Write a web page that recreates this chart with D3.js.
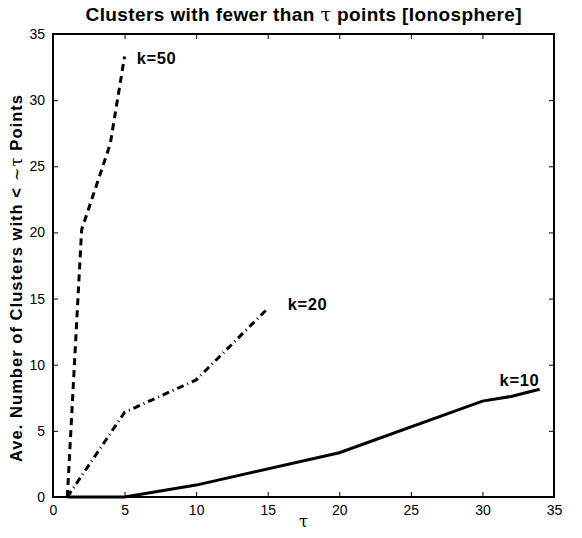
<!DOCTYPE html>
<html><head><meta charset="utf-8">
<script src="https://cdn.jsdelivr.net/npm/d3@7"></script>
<style>body{margin:0;background:#fff}</style>
</head><body>
<svg id="c" width="582" height="538"></svg>
<script>
const xTicks = [0,5,10,15,20,25,30,35];
const yTicks = [0,5,10,15,20,25,30,35];
const k10x = [1,5,10,20,30,32,34];
const k10y = [0,0,0.9,3.35,7.25,7.6,8.15];
const k20x = [1,5,10,15];
const k20y = [0,6.4,8.85,14.25];
const k50x = [1,2,4,5];
const k50y = [0,20.2,26.7,33.3];
const labelText = ["k=50","k=20","k=10"];
const labelX = [5.85,16.4,31.2];
const labelY = [33.2,14.6,8.85];

const svg = d3.select("#c");
const L=53, R=554, T=34, B=497;
const x = d3.scaleLinear().domain([0,35]).range([L,R]);
const y = d3.scaleLinear().domain([0,35]).range([B,T]);
const font = "'Liberation Sans', Arial, Helvetica, sans-serif";

// axes
const ax = svg.append("g").attr("transform",`translate(0,${B})`)
  .call(d3.axisBottom(x).tickValues(xTicks).tickSizeInner(-5).tickSizeOuter(0).tickPadding(8));
const axT = svg.append("g").attr("transform",`translate(0,${T})`)
  .call(d3.axisTop(x).tickValues(xTicks).tickSizeInner(-5).tickSizeOuter(0).tickFormat(""));
const ay = svg.append("g").attr("transform",`translate(${L},0)`)
  .call(d3.axisLeft(y).tickValues(yTicks).tickSizeInner(-5).tickSizeOuter(0).tickPadding(8));
const ayR = svg.append("g").attr("transform",`translate(${R},0)`)
  .call(d3.axisRight(y).tickValues(yTicks).tickSizeInner(-5).tickSizeOuter(0).tickFormat(""));
[ax,axT,ay,ayR].forEach(g=>{
  g.select(".domain").remove();
  g.selectAll(".tick line").attr("stroke","#000").attr("stroke-width",1);
  g.selectAll(".tick text").attr("font-family",font).attr("font-size",14).attr("fill","#000");
});
ax.selectAll(".tick text").attr("dy","0.71em");
svg.append("rect").attr("x",L).attr("y",T).attr("width",R-L).attr("height",B-T)
  .attr("fill","none").attr("stroke","#000").attr("stroke-width",2);

// lines
const line = d3.line().x(d=>x(d[0])).y(d=>y(d[1]));
const series = [
  {xs:k10x, ys:k10y, dash:null},
  {xs:k20x, ys:k20y, dash:"7,4,1,4"},
  {xs:k50x, ys:k50y, dash:"7,5"}
];
series.forEach(s=>{
  const pts = s.xs.map((v,i)=>[v,s.ys[i]]);
  svg.append("path").attr("d",line(pts)).attr("fill","none").attr("stroke","#000")
    .attr("stroke-width",3).attr("stroke-dasharray",s.dash);
});

// labels
labelText.forEach((t,i)=>{
  svg.append("text").attr("x",x(labelX[i])).attr("y",y(labelY[i])).attr("dy","0.35em")
    .attr("font-family",font).attr("font-weight","bold").attr("font-size",16.5)
    .attr("textLength",39).attr("lengthAdjust","spacing").text(t);
});

// title
const title = svg.append("text").attr("x",(L+R)/2).attr("y",21).attr("text-anchor","middle")
  .attr("font-family",font).attr("font-weight","bold").attr("font-size",19)
  .attr("textLength",436).attr("lengthAdjust","spacing");
title.append("tspan").text("Clusters with fewer than ");
title.append("tspan").attr("font-family","'DejaVu Serif', serif").attr("font-weight","normal").text("τ");
title.append("tspan").text(" points [Ionosphere]");

// x label
svg.append("text").attr("x",(L+R)/2).attr("y",527).attr("text-anchor","middle")
  .attr("font-family","'DejaVu Serif', serif").attr("font-size",16).text("τ");

// y label
const yl = svg.append("text").attr("transform",`translate(22,${(95+462)/2}) rotate(-90)`)
  .attr("text-anchor","middle").attr("font-family",font).attr("font-weight","bold").attr("font-size",16.5)
  .attr("textLength",367).attr("lengthAdjust","spacing");
yl.append("tspan").text("Ave. Number of Clusters with <  ");
yl.append("tspan").attr("font-family","'DejaVu Serif', serif").attr("font-weight","normal").text("~τ");
yl.append("tspan").text(" Points");
</script>
</body></html>
